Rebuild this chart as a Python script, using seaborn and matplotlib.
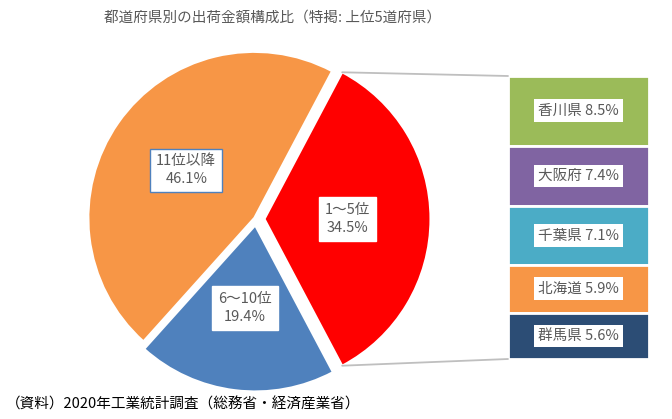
import matplotlib
matplotlib.use("Agg")
import matplotlib.pyplot as plt
from matplotlib.patches import ConnectionPatch
import numpy as np
import seaborn as sns

sns.set_theme(style="white")
plt.rcParams['font.family'] = ['Noto Sans CJK JP', 'DejaVu Sans']

# ---- data ----
pie_labels = ["1〜5位", "11位以降", "6〜10位"]
pie_values = [34.5, 46.1, 19.4]
pie_colors = ["#FF0000", "#F79646", "#4F81BD"]

bar_labels = ["香川県", "大阪府", "千葉県", "北海道", "群馬県"]
bar_values = [8.5, 7.4, 7.1, 5.9, 5.6]
bar_colors = ["#9BBB59", "#8064A2", "#4BACC6", "#F79646", "#2C4D75"]

title = "都道府県別の出荷金額構成比（特掲: 上位5道府県）"
source = "（資料）2020年工業統計調査（総務省・経済産業省）"

TXT = "#595959"
W, H = 672, 419
fig = plt.figure(figsize=(W / 100, H / 100), dpi=100)

# pie axes in pixel-like coordinates
ax = fig.add_axes([0, 0, 1, 1])

cx, cy, R = 256, H - 219, 166
start = -pie_values[0] / 100 * 360 / 2
texts_fmt = [f"{l}\n{v}%" for l, v in zip(pie_labels, pie_values)]
wedges, texts = ax.pie(pie_values, colors=pie_colors, startangle=start,
                       counterclock=True, center=(cx, cy), radius=R,
                       explode=[8.5, 2.0, 6.5], labels=texts_fmt,
                       labeldistance=0.5,
                       wedgeprops=dict(edgecolor="white", linewidth=1.5),
                       textprops=dict(fontsize=10.5, color=TXT, linespacing=1.35),
                       frame=True)
ax.set_xlim(0, W)
ax.set_ylim(0, H)
ax.set_aspect('equal')
ax.axis('off')
for i, t in enumerate(texts):
    t.set_ha('center')
    t.set_va('center')
    ec = "#4F81BD" if i == 1 else "white"
    t.set_bbox(dict(boxstyle="square,pad=0.4", facecolor="white", edgecolor=ec, linewidth=1))

# bar axes
bl, bt, bw, bh = 508, 76, 141, 283
bax = fig.add_axes([bl / W, (H - bt - bh) / H, bw / W, bh / H])
total = sum(bar_values)
bottom = total
for lab, v, c in zip(bar_labels, bar_values, bar_colors):
    bottom -= v
    bax.bar(0, v, bottom=bottom, width=1.0, color=c, edgecolor="white", linewidth=2)
    bax.text(0, bottom + v / 2, f"{lab} {v}%", ha='center', va='center',
             fontsize=10.5, color=TXT,
             bbox=dict(boxstyle="square,pad=0.3", facecolor="white", edgecolor="none"))
bax.set_xlim(-0.5, 0.5)
bax.set_ylim(0, total)
bax.axis('off')

# connector lines from red wedge corners to bar
w0 = wedges[0]
(wx, wy), wr = w0.center, w0.r
for ang, yb in [(w0.theta2, total), (w0.theta1, 0)]:
    a = np.deg2rad(ang)
    p = (wx + wr * np.cos(a), wy + wr * np.sin(a))
    con = ConnectionPatch(xyA=p, coordsA=ax.transData, xyB=(-0.5, yb),
                          coordsB=bax.transData, color="#BFBFBF", linewidth=1.3)
    fig.add_artist(con)

fig.text(273 / W, 1 - 18 / H, title, ha='center', va='center', fontsize=10.5, color=TXT)
fig.text(6 / W, 1 - 405 / H, source, ha='left', va='center', fontsize=10.5, color="black")

fig.savefig("out.png", dpi=100)
